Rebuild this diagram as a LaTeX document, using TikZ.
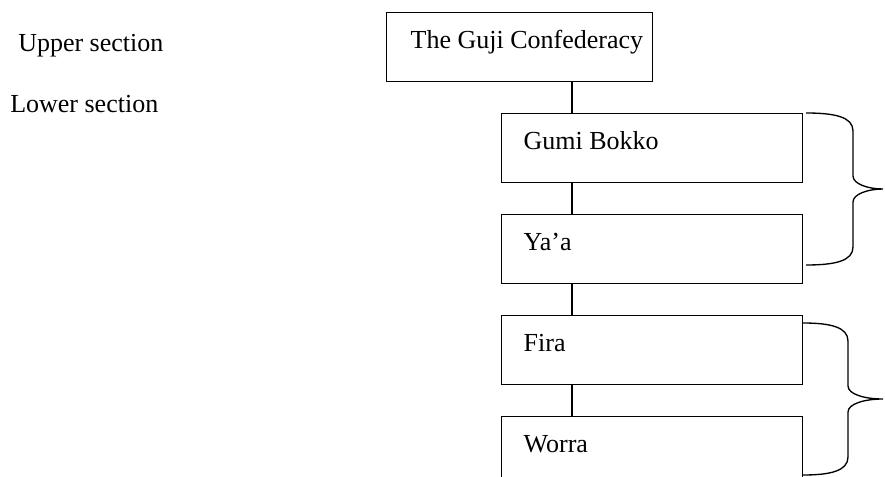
\documentclass[tikz,border=0pt]{standalone}
\usepackage{fontspec}
\setmainfont{Liberation Serif}
\usepackage{tikz}

\tikzset{
  unit/.style={draw, line width=1pt, anchor=north west, inner xsep=16.5pt, inner ysep=0pt,
    text width=192.75pt, align=flush left, text height=27pt, text depth=24.75pt},
  brace/.style={line width=1pt},
  tag/.style={anchor=base west, inner sep=0pt}
}

\begin{document}
\begin{tikzpicture}[x=0.75pt,y=0.75pt,yscale=-1,xscale=1,font=\fontsize{19.5}{23}\selectfont]
        \useasboundingbox (0,0) rectangle (885,477);
        \clip (0,0) rectangle (885,477);

        \node[unit, inner xsep=18pt, text width=163.5pt] (guji) at (386,12) {\mbox{The Guji Confederacy}};
        \node[unit] (gumi) at (501,113) {Gumi Bokko};
        \node[unit] (yaa) at (501,214) {Ya’a};
        \node[unit] (fira) at (501,315) {Fira};
        \node[unit] (worra) at (501,416) {Worra};

        \coordinate (spine) at (572,0);
        \draw [line width=1pt] (guji.south -| spine) -- (gumi.north -| spine);
        \draw [line width=1pt] (gumi.south -| spine) -- (yaa.north -| spine);
        \draw [line width=1pt] (yaa.south -| spine) -- (fira.north -| spine);
        \draw [line width=1pt] (fira.south -| spine) -- (worra.north -| spine);

        \draw [brace] (806,113) .. controls (835,113) and (853,117) .. (853,131) -- (853,176) .. controls (853,184) and (868,189) .. (883,189) .. controls (868,189) and (853,194) .. (853,202) -- (853,247) .. controls (853,261) and (835,265) .. (806,265);
        \draw [brace] (803,323) .. controls (830,323) and (848,327) .. (848,341) -- (848,386) .. controls (848,394) and (864,399) .. (883,399) .. controls (864,399) and (848,404) .. (848,412) -- (848,457) .. controls (848,471) and (830,475) .. (803,475);

        \node[tag] (upper) at (18,52) {Upper section};
        \node[tag] (lower) at (10,113) {Lower section};
    \end{tikzpicture}
\end{document}
